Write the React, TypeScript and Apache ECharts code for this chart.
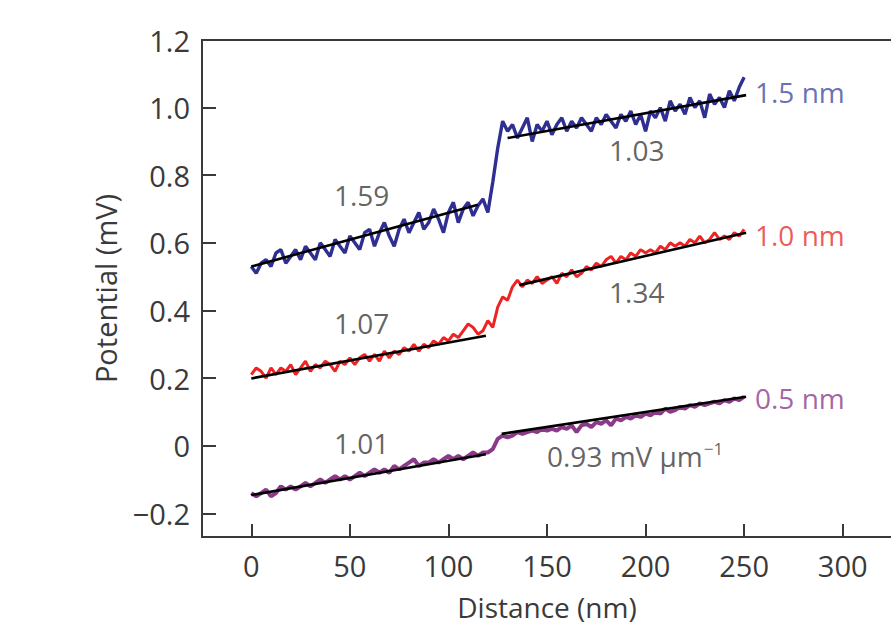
import React, { useEffect, useRef } from "react";
import * as echarts from "echarts";

const distanceNm = [
  0, 2.5, 5, 7.5, 10, 12.5, 15, 17.5, 20, 22.5, 25, 27.5, 30, 32.5, 35, 37.5, 40, 42.5, 45, 47.5,
  50, 52.5, 55, 57.5, 60, 62.5, 65, 67.5, 70, 72.5, 75, 77.5, 80, 82.5, 85, 87.5, 90, 92.5, 95, 97.5,
  100, 102.5, 105, 107.5, 110, 112.5, 115, 117.5, 120, 122.5, 125, 127.5, 130, 132.5, 135, 137.5,
  140, 142.5, 145, 147.5, 150, 152.5, 155, 157.5, 160, 162.5, 165, 167.5, 170, 172.5, 175, 177.5,
  180, 182.5, 185, 187.5, 190, 192.5, 195, 197.5, 200, 202.5, 205, 207.5, 210, 212.5, 215, 217.5,
  220, 222.5, 225, 227.5, 230, 232.5, 235, 237.5, 240, 242.5, 245, 247.5, 250,
];

const potential15nm = [
  0.53, 0.51, 0.54, 0.55, 0.53, 0.57, 0.58, 0.54, 0.56, 0.58, 0.55, 0.59, 0.57, 0.55, 0.6, 0.58, 0.56, 0.61, 0.59, 0.57,
  0.62, 0.6, 0.58, 0.63, 0.64, 0.59, 0.63, 0.66, 0.62, 0.59, 0.64, 0.67, 0.63, 0.66, 0.69, 0.64, 0.66, 0.7, 0.67, 0.63,
  0.69, 0.72, 0.66, 0.7, 0.72, 0.68, 0.71, 0.73, 0.69, 0.78, 0.88, 0.96, 0.93, 0.95, 0.91, 0.94,
  0.97, 0.9, 0.95, 0.93, 0.96, 0.92, 0.95, 0.97, 0.93, 0.96, 0.94, 0.97, 0.95, 0.93, 0.97, 0.95,
  0.98, 0.96, 0.94, 0.98, 0.96, 0.99, 0.95, 0.98, 0.93, 0.99, 0.97, 1.0, 0.96, 1.02, 0.99, 1.01,
  0.98, 1.03, 1.0, 1.02, 0.97, 1.04, 1.01, 1.03, 1.0, 1.05, 1.02, 1.06, 1.09,
];

const potential10nm = [
  0.21, 0.23, 0.22, 0.2, 0.23, 0.21, 0.23, 0.22, 0.24, 0.21, 0.23, 0.25, 0.22, 0.24, 0.23, 0.25, 0.24, 0.22, 0.25, 0.24,
  0.26, 0.24, 0.26, 0.27, 0.25, 0.27, 0.25, 0.28, 0.26, 0.28, 0.27, 0.29, 0.28, 0.3, 0.28, 0.3, 0.29, 0.31, 0.3, 0.32,
  0.31, 0.33, 0.32, 0.34, 0.36, 0.35, 0.33, 0.34, 0.37, 0.35, 0.41, 0.44, 0.43, 0.47, 0.49, 0.47,
  0.49, 0.48, 0.5, 0.48, 0.49, 0.5, 0.48, 0.51, 0.5, 0.52, 0.5, 0.51, 0.53, 0.52, 0.54, 0.53,
  0.55, 0.56, 0.54, 0.56, 0.55, 0.57, 0.56, 0.58, 0.57, 0.58, 0.57, 0.59, 0.58, 0.6, 0.59, 0.6,
  0.59, 0.61, 0.6, 0.62, 0.6, 0.61, 0.63, 0.61, 0.62, 0.61, 0.63, 0.62, 0.64,
];

const potential05nm = [
  -0.14, -0.15, -0.14, -0.13, -0.15, -0.14, -0.12, -0.13, -0.12, -0.13, -0.12, -0.11, -0.12, -0.11, -0.1, -0.11, -0.1, -0.09, -0.1, -0.09,
  -0.1, -0.09, -0.08, -0.09, -0.08, -0.07, -0.08, -0.07, -0.08, -0.06, -0.07, -0.06, -0.05, -0.04, -0.06, -0.05, -0.05, -0.04, -0.05, -0.04,
  -0.03, -0.04, -0.03, -0.04, -0.03, -0.02, -0.03, -0.02, -0.02, -0.01, 0.02, 0.03, 0.025, 0.03, 0.04, 0.035,
  0.04, 0.045, 0.04, 0.05, 0.045, 0.05, 0.045, 0.055, 0.05, 0.06, 0.04, 0.06, 0.065, 0.055, 0.07, 0.065,
  0.075, 0.06, 0.08, 0.075, 0.085, 0.08, 0.09, 0.085, 0.095, 0.09, 0.1, 0.095, 0.11, 0.1, 0.105, 0.115,
  0.11, 0.12, 0.115, 0.125, 0.12, 0.125, 0.13, 0.125, 0.135, 0.13, 0.14, 0.135, 0.145,
];

// linear fits: [x, y] endpoints
const fit15a = [[0, 0.53], [115, 0.713]];
const fit15b = [[130, 0.91], [251, 1.037]];
const fit10a = [[0, 0.199], [119, 0.325]];
const fit10b = [[136, 0.475], [251, 0.63]];
const fit05a = [[0, -0.146], [119, -0.025]];
const fit05b = [[127, 0.035], [251, 0.145]];

const xTicks = [0, 50, 100, 150, 200, 250, 300];
const yTicks = [-0.2, 0, 0.2, 0.4, 0.6, 0.8, 1.0, 1.2];

// slope annotations: [x, y, text]
const slopeLabels: [number, number, string][] = [
  [56, 0.742, "1.59"],
  [195.5, 0.875, "1.03"],
  [56, 0.363, "1.07"],
  [195.5, 0.455, "1.34"],
  [56, 0.008, "1.01"],
];
const unitLabel: [number, number, string] = [150, -0.03, "0.93 mV μm{sup|−1}"];
const thicknessLabels: [number, number, string, string][] = [
  [255.5, 1.047, "1.5 nm", "#3f4c9e"],
  [255.5, 0.622, "1.0 nm", "#e8302a"],
  [255.5, 0.14, "0.5 nm", "#8c3a8c"],
];

const FONT = "Open Sans";
const AXIS = "#3a3a3a";
const TXT = "#3a3a3a";

export default function App() {
  const ref = useRef<HTMLDivElement>(null);
  useEffect(() => {
    if (!ref.current) return;
    const chart = echarts.init(ref.current, null, { renderer: "svg" });
    const pairs = (ys: number[]) => ys.map((v, i) => [distanceNm[i], v]);
    const fitSeries = (d: number[][]) => ({
      type: "line",
      data: d,
      showSymbol: false,
      symbol: "none",
      lineStyle: { color: "#000", width: 2.6 },
      z: 5,
      silent: true,
    });
    chart.setOption({
      animation: false,
      grid: {
        left: 202,
        top: 40,
        width: 690,
        height: 497,
        show: true,
        borderColor: AXIS,
        borderWidth: 2,
        outerBoundsMode: "none",
      },
      xAxis: {
        type: "value",
        min: -25,
        max: 325,
        name: "Distance (nm)",
        nameLocation: "middle",
        nameGap: 56,
        nameTextStyle: { fontFamily: FONT, fontSize: 28, color: TXT },
        axisLine: { show: true, onZero: false, lineStyle: { color: AXIS, width: 2 } },
        axisTick: { show: true, inside: true, length: 13, customValues: xTicks, lineStyle: { color: AXIS, width: 2 } },
        axisLabel: {
          customValues: xTicks,
          margin: 14,
          fontFamily: FONT,
          fontSize: 29,
          color: TXT,
        },
        splitLine: { show: false },
      },
      yAxis: {
        type: "value",
        min: -0.27,
        max: 1.2,
        name: "Potential (mV)",
        nameLocation: "middle",
        nameGap: 82,
        nameRotate: 90,
        nameTextStyle: { fontFamily: FONT, fontSize: 29, color: TXT },
        axisLine: { show: true, onZero: false, lineStyle: { color: AXIS, width: 2 } },
        axisTick: { show: true, inside: true, length: 14, customValues: yTicks, lineStyle: { color: AXIS, width: 2 } },
        axisLabel: {
          customValues: yTicks,
          margin: 12,
          fontFamily: FONT,
          fontSize: 29,
          color: TXT,
          formatter: (v: number) => {
            if (Math.abs(v) < 1e-9) return "0";
            return (v < 0 ? "−" : "") + Math.abs(v).toFixed(1);
          },
        },
        splitLine: { show: false },
      },
      series: [
        {
          type: "line",
          data: pairs(potential15nm),
          showSymbol: false,
          symbol: "none",
          lineStyle: { color: "#2f2f92", width: 3.4 },
          z: 2,
        },
        {
          type: "line",
          data: pairs(potential10nm),
          showSymbol: false,
          symbol: "none",
          lineStyle: { color: "#ee2424", width: 3 },
          z: 2,
        },
        {
          type: "line",
          data: pairs(potential05nm),
          showSymbol: false,
          symbol: "none",
          lineStyle: { color: "#8a3a88", width: 4 },
          z: 2,
        },
        fitSeries(fit15a),
        fitSeries(fit15b),
        fitSeries(fit10a),
        fitSeries(fit10b),
        fitSeries(fit05a),
        fitSeries(fit05b),
        {
          type: "scatter",
          symbolSize: 0,
          silent: true,
          z: 6,
          data: slopeLabels.map((l) => ({ value: [l[0], l[1]], name: l[2] })),
          label: {
            show: true,
            position: "inside",
            formatter: "{b}",
            fontFamily: FONT,
            fontSize: 28,
            color: TXT,
          },
        },
        {
          type: "scatter",
          symbolSize: 0,
          silent: true,
          z: 6,
          data: [{ value: [unitLabel[0], unitLabel[1]], name: unitLabel[2] }],
          label: {
            show: true,
            position: "right",
            distance: 0,
            formatter: "{b}",
            fontFamily: FONT,
            fontSize: 28,
            color: TXT,
            rich: {
              sup: { fontFamily: FONT, fontSize: 17, color: TXT, verticalAlign: "top", padding: [0, 0, 14, 1] },
            },
          },
        },
        {
          type: "scatter",
          symbolSize: 0,
          silent: true,
          z: 6,
          data: thicknessLabels.map((l) => ({
            value: [l[0], l[1]],
            name: l[2],
            label: { color: l[3] },
          })),
          label: {
            show: true,
            position: "right",
            distance: 0,
            formatter: "{b}",
            fontFamily: FONT,
            fontSize: 28,
          },
        },
      ],
    });
    return () => chart.dispose();
  }, []);
  return (
    <div
      ref={ref}
      style={{ position: "fixed", left: 0, top: 0, width: 891, height: 628, background: "#fff" }}
    />
  );
}
